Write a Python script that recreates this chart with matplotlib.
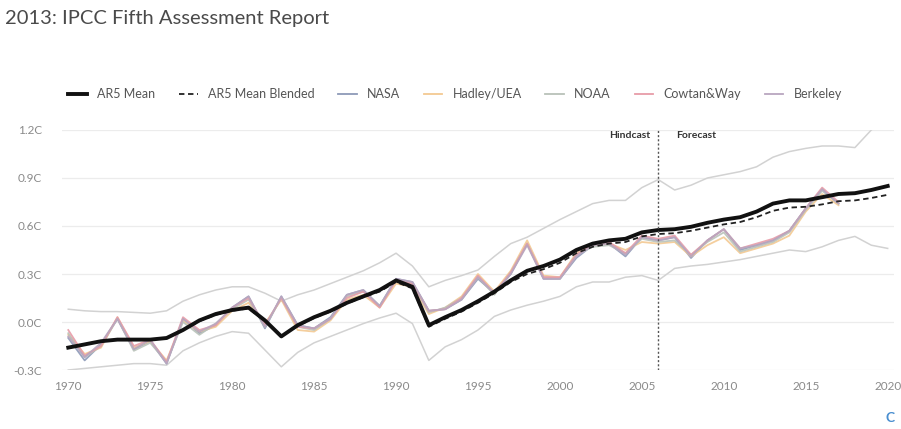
import numpy as np
import matplotlib
matplotlib.use("Agg")
import matplotlib.pyplot as plt
from matplotlib.lines import Line2D

plt.rcParams['font.family'] = ['Lato', 'DejaVu Sans']

years = np.arange(1970, 2021)
obs_years = np.arange(1970, 2018)

ar5_mean = [-0.16, -0.14, -0.12, -0.11, -0.11, -0.11, -0.10, -0.05, 0.01, 0.05,
            0.075, 0.09, 0.01, -0.09, -0.02, 0.03, 0.07, 0.12, 0.16, 0.20,
            0.26, 0.22, -0.02, 0.03, 0.075, 0.13, 0.19, 0.26, 0.32, 0.35,
            0.39, 0.45, 0.49, 0.51, 0.52, 0.56, 0.575, 0.58, 0.595, 0.62,
            0.64, 0.655, 0.69, 0.74, 0.76, 0.76, 0.78, 0.80, 0.805, 0.825,
            0.85]

ar5_blended = [-0.16, -0.14, -0.12, -0.11, -0.11, -0.11, -0.10, -0.05, 0.005, 0.045,
               0.07, 0.085, 0.005, -0.09, -0.025, 0.025, 0.065, 0.115, 0.155, 0.19,
               0.25, 0.21, -0.03, 0.02, 0.065, 0.12, 0.18, 0.25, 0.30, 0.33,
               0.37, 0.43, 0.47, 0.49, 0.50, 0.535, 0.55, 0.555, 0.57, 0.59,
               0.61, 0.625, 0.655, 0.695, 0.715, 0.72, 0.735, 0.755, 0.76, 0.775,
               0.795]

upper = [0.08, 0.07, 0.065, 0.065, 0.06, 0.055, 0.07, 0.13, 0.17, 0.20,
         0.22, 0.22, 0.18, 0.13, 0.17, 0.20, 0.24, 0.28, 0.32, 0.37,
         0.43, 0.35, 0.22, 0.26, 0.29, 0.325, 0.41, 0.49, 0.53, 0.585,
         0.64, 0.69, 0.74, 0.76, 0.76, 0.84, 0.89, 0.825, 0.855, 0.90,
         0.92, 0.94, 0.97, 1.03, 1.065, 1.085, 1.10, 1.10, 1.09, 1.20,
         1.28]

lower = [-0.30, -0.29, -0.28, -0.27, -0.26, -0.26, -0.27, -0.18, -0.13, -0.09,
         -0.06, -0.07, -0.175, -0.28, -0.19, -0.13, -0.09, -0.05, -0.01, 0.025,
         0.055, -0.01, -0.24, -0.155, -0.11, -0.05, 0.035, 0.075, 0.105, 0.13,
         0.16, 0.22, 0.25, 0.25, 0.28, 0.29, 0.26, 0.335, 0.35, 0.36,
         0.375, 0.39, 0.41, 0.43, 0.45, 0.44, 0.47, 0.51, 0.535, 0.48,
         0.46]

nasa = [-0.10, -0.24, -0.14, 0.02, -0.17, -0.12, -0.26, 0.02, -0.07, -0.02,
        0.09, 0.16, -0.04, 0.16, -0.02, -0.04, 0.03, 0.17, 0.20, 0.10,
        0.27, 0.25, 0.07, 0.08, 0.14, 0.27, 0.18, 0.30, 0.49, 0.27,
        0.27, 0.40, 0.48, 0.49, 0.41, 0.53, 0.51, 0.53, 0.40, 0.51,
        0.58, 0.45, 0.48, 0.51, 0.57, 0.71, 0.83, 0.74]

hadley = [-0.08, -0.20, -0.16, 0.03, -0.16, -0.12, -0.24, 0.01, -0.06, -0.03,
          0.07, 0.12, -0.01, 0.14, -0.05, -0.06, 0.01, 0.14, 0.17, 0.09,
          0.24, 0.22, 0.05, 0.09, 0.16, 0.30, 0.19, 0.32, 0.51, 0.29,
          0.28, 0.43, 0.48, 0.49, 0.45, 0.50, 0.49, 0.50, 0.41, 0.48,
          0.53, 0.43, 0.46, 0.49, 0.54, 0.69, 0.80, 0.73]

noaa = [-0.07, -0.22, -0.15, 0.02, -0.18, -0.13, -0.25, 0.00, -0.08, -0.01,
        0.08, 0.14, -0.03, 0.15, -0.03, -0.05, 0.02, 0.16, 0.19, 0.10,
        0.26, 0.24, 0.06, 0.09, 0.15, 0.28, 0.17, 0.31, 0.49, 0.28,
        0.27, 0.42, 0.47, 0.48, 0.43, 0.52, 0.50, 0.51, 0.42, 0.50,
        0.56, 0.44, 0.47, 0.50, 0.56, 0.70, 0.82, 0.74]

cowtan = [-0.05, -0.21, -0.15, 0.03, -0.15, -0.11, -0.25, 0.03, -0.05, -0.02,
          0.09, 0.15, -0.02, 0.15, -0.03, -0.04, 0.02, 0.15, 0.19, 0.09,
          0.26, 0.24, 0.07, 0.08, 0.15, 0.29, 0.18, 0.31, 0.49, 0.28,
          0.28, 0.42, 0.49, 0.50, 0.43, 0.54, 0.52, 0.54, 0.42, 0.51,
          0.58, 0.46, 0.49, 0.52, 0.57, 0.71, 0.84, 0.75]

berkeley = [-0.09, -0.22, -0.13, 0.02, -0.17, -0.11, -0.26, 0.02, -0.06, -0.01,
            0.09, 0.16, -0.03, 0.16, -0.02, -0.04, 0.02, 0.17, 0.20, 0.10,
            0.27, 0.25, 0.07, 0.08, 0.14, 0.28, 0.18, 0.30, 0.48, 0.27,
            0.27, 0.41, 0.48, 0.49, 0.42, 0.53, 0.51, 0.53, 0.41, 0.51,
            0.58, 0.46, 0.48, 0.51, 0.57, 0.71, 0.83, 0.74]

y_ticks = [-0.3, 0.0, 0.3, 0.6, 0.9, 1.2]
y_tick_labels = ["-0.3C", "0.0C", "0.3C", "0.6C", "0.9C", "1.2C"]
x_ticks = [1970, 1975, 1980, 1985, 1990, 1995, 2000, 2005, 2010, 2015, 2020]

obs_series = [
    ("NASA", nasa, "#8d9ab8"),
    ("Hadley/UEA", hadley, "#f3c992"),
    ("NOAA", noaa, "#b9c2b9"),
    ("Cowtan&Way", cowtan, "#e79ca8"),
    ("Berkeley", berkeley, "#b9a6bf"),
]

fig = plt.figure(figsize=(9.01, 4.29), dpi=100)
ax = fig.add_axes([0.0685, 0.1375, 0.924, 0.5595])

ax.set_xlim(1969.6, 2020.4)
ax.set_ylim(-0.3, 1.2)

for yt in y_ticks:
    ax.axhline(yt, color="#ececec", lw=0.9, zorder=0)

ax.plot(years, upper, color="#d2d2d2", lw=1.1, zorder=1)
ax.plot(years, lower, color="#d2d2d2", lw=1.1, zorder=1)

for name, vals, col in obs_series:
    ax.plot(obs_years, vals, color=col, lw=1.3, alpha=0.9, zorder=2)

ax.plot(years, ar5_blended, color="#222222", lw=1.3, ls=(0, (3, 2)), zorder=3)
ax.plot(years, ar5_mean, color="#111111", lw=2.8, zorder=4)

ax.axvline(2006, color="#555555", lw=1.0, ls=(0, (1.5, 1.5)), zorder=5)
ax.text(2005.5, 1.165, "Hindcast", ha="right", va="center", fontsize=7.5,
        fontweight="bold", color="#333333")
ax.text(2007.1, 1.165, "Forecast", ha="left", va="center", fontsize=7.5,
        fontweight="bold", color="#333333")

ax.set_yticks(y_ticks)
ax.set_yticklabels(y_tick_labels)
ax.set_xticks(x_ticks)
ax.set_xticklabels([str(x) for x in x_ticks])
ax.tick_params(axis="both", length=0, labelsize=8.5, labelcolor="#8a8a8a")
ax.tick_params(axis="y", pad=14)
ax.tick_params(axis="x", pad=8)
for s in ax.spines.values():
    s.set_visible(False)

fig.text(0.006, 0.958, "2013: IPCC Fifth Assessment Report", ha="left", va="center",
         fontsize=14.5, color="#4a4a4a")

handles = [
    Line2D([], [], color="#111111", lw=2.8),
    Line2D([], [], color="#222222", lw=1.3, ls=(0, (3, 2))),
] + [Line2D([], [], color=c, lw=1.3) for _, _, c in obs_series]
labels = ["AR5 Mean", "AR5 Mean Blended"] + [n for n, _, _ in obs_series]
leg = fig.legend(handles, labels, loc="center", bbox_to_anchor=(0.505, 0.78), ncol=7,
                 frameon=False, fontsize=9, handlelength=1.5, handletextpad=0.8,
                 columnspacing=1.9)
for t in leg.get_texts():
    t.set_color("#555555")

fig.text(0.988, 0.025, "C", ha="center", va="center", fontsize=10,
         fontweight="bold", color="#4a8fd0")

fig.savefig("out.png", dpi=100)
